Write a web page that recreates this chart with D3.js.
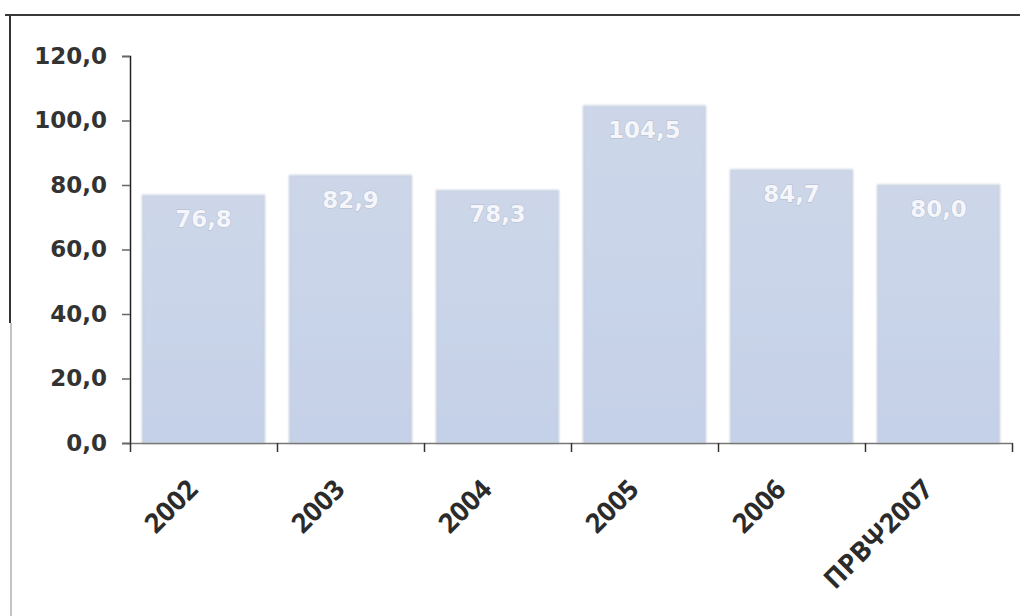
<!DOCTYPE html>
<html>
<head>
<meta charset="utf-8">
<script src="https://cdn.jsdelivr.net/npm/d3@7/dist/d3.min.js"></script>
<style>
  html, body { margin: 0; padding: 0; background: #fff; }
  svg { display: block; }
</style>
</head>
<body>
<svg id="chart" width="1020" height="616"></svg>
<script>
// Yearly values, with the 2007 forecast as the last category
const categories = ["2002", "2003", "2004", "2005", "2006", "ΠΡΒΨ2007"];
const values = [76.8, 82.9, 78.3, 104.5, 84.7, 80.0];
const valueLabels = ["76,8", "82,9", "78,3", "104,5", "84,7", "80,0"];
const yTicks = [0, 20, 40, 60, 80, 100, 120];

const svg = d3.select("#chart");
const plot = { left: 130, right: 1012, top: 56, bottom: 443 };

const fmt = v => d3.format(".1f")(v).replace(".", ",");

const x = d3.scaleBand()
  .domain(categories)
  .range([plot.left, plot.right])
  .paddingInner(0.17)
  .paddingOuter(0.085);

const y = d3.scaleLinear().domain([0, 120]).range([plot.bottom, plot.top]);

// category boundaries for the tick marks between bars
const edges = d3.scaleLinear().domain([0, categories.length]).range([plot.left, plot.right]);

// frame of the figure
svg.append("line").attr("x1", 5).attr("x2", 1020).attr("y1", 15).attr("y2", 15)
  .attr("stroke", "#3a3a3a").attr("stroke-width", 2);
svg.append("line").attr("x1", 10).attr("x2", 10).attr("y1", 15).attr("y2", 323)
  .attr("stroke", "#333").attr("stroke-width", 2);
svg.append("line").attr("x1", 11).attr("x2", 11).attr("y1", 323).attr("y2", 616)
  .attr("stroke", "#888").attr("stroke-width", 1);

const defs = svg.append("defs");
const grad = defs.append("linearGradient").attr("id", "barFill")
  .attr("x1", "0").attr("x2", "0").attr("y1", "0").attr("y2", "1");
grad.append("stop").attr("offset", "0%").attr("stop-color", "#cdd7e9");
grad.append("stop").attr("offset", "100%").attr("stop-color", "#c5d1e8");

const glow = defs.append("filter").attr("id", "soft")
  .attr("x", "-10%").attr("y", "-10%").attr("width", "120%").attr("height", "120%");
glow.append("feGaussianBlur").attr("stdDeviation", 0.8);

// bars
svg.append("g").selectAll("rect")
  .data(values)
  .join("rect")
  .attr("x", (d, i) => x(categories[i]))
  .attr("y", d => y(d))
  .attr("width", x.bandwidth())
  .attr("height", d => y(0) - y(d))
  .attr("fill", "url(#barFill)")
  .attr("stroke", "#b9c3d3")
  .attr("stroke-width", 1)
  .attr("filter", "url(#soft)");

// value labels inside the bars
svg.append("g").selectAll("text")
  .data(values)
  .join("text")
  .attr("x", (d, i) => x(categories[i]) + x.bandwidth() / 2)
  .attr("y", d => y(d) + 32)
  .attr("text-anchor", "middle")
  .attr("font-family", "DejaVu Sans, Verdana, sans-serif")
  .attr("font-weight", "bold")
  .attr("font-size", 23)
  .attr("fill", "#f4f6fb")
  .attr("stroke", "#b3bccc")
  .attr("stroke-width", 1)
  .attr("paint-order", "stroke")
  .text((d, i) => valueLabels[i]);

// y axis
const yAxis = svg.append("g")
  .attr("transform", `translate(${plot.left},0)`)
  .call(d3.axisLeft(y).tickValues(yTicks).tickFormat(fmt).tickSize(8).tickPadding(15));
yAxis.select(".domain").attr("stroke", "#222").attr("stroke-width", 1.5);
yAxis.selectAll(".tick line").attr("stroke", "#666").attr("stroke-width", 1.5);
yAxis.selectAll(".tick text")
  .attr("font-family", "DejaVu Sans, Verdana, sans-serif")
  .attr("font-weight", "bold")
  .attr("font-size", 23)
  .attr("fill", "#333");

// x axis line and boundary ticks
const xAxis = svg.append("g")
  .attr("transform", `translate(0,${plot.bottom})`)
  .call(d3.axisBottom(edges).tickValues(d3.range(categories.length + 1)).tickFormat("").tickSize(9).tickSizeOuter(0));
xAxis.select(".domain").attr("stroke", "#777").attr("stroke-width", 1.5);
xAxis.selectAll(".tick line").attr("stroke", "#333").attr("stroke-width", 1.5);

// category labels, rotated
svg.append("g").selectAll("text")
  .data(categories)
  .join("text")
  .attr("transform", d => `translate(${x(d) + x.bandwidth() / 2 - 4},${plot.bottom + 48}) rotate(-45)`)
  .attr("text-anchor", "end")
  .attr("font-family", "Open Sans, sans-serif")
  .attr("font-weight", "bold")
  .attr("font-size", 27)
  .attr("fill", "#2b2b2b")
  .text(d => d);
</script>
</body>
</html>
